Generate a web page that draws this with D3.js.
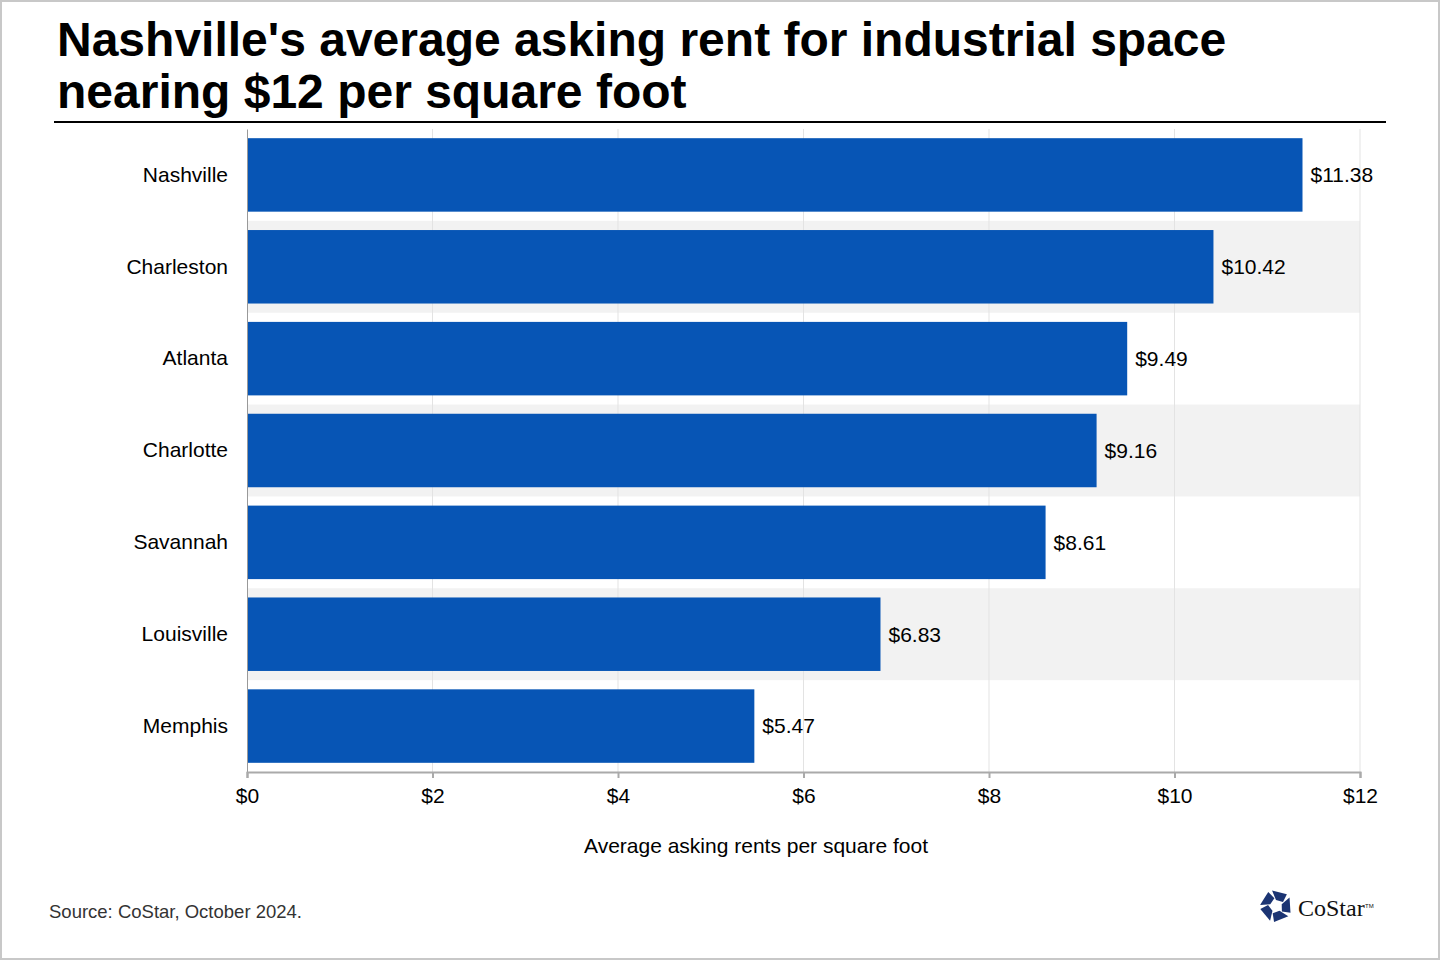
<!DOCTYPE html>
<html lang="en">

<head>
    <meta charset="utf-8">
    <title>Nashville industrial rent</title>
    <script src="https://cdnjs.cloudflare.com/ajax/libs/d3/7.8.5/d3.min.js"></script>
    <style>
        body {
            margin: 0;
            background: #fff;
        }

        svg {
            display: block;
            font-family: "Liberation Sans", Arial, sans-serif;
        }
    </style>
</head>

<body>
    <script>
        var cities = ['Nashville', 'Charleston', 'Atlanta', 'Charlotte', 'Savannah', 'Louisville', 'Memphis'];
        var rents = [11.38, 10.42, 9.49, 9.16, 8.61, 6.83, 5.47];
        var xTicks = [0, 2, 4, 6, 8, 10, 12];

        var width = 1440, height = 960;
        var plotLeft = 247, plotRight = 1360, plotTop = 129, plotBottom = 772;
        var labelSize = 21;

        var svg = d3.select('body').append('svg')
            .attr('width', width)
            .attr('height', height);

        // border
        svg.append('rect')
            .attr('x', 1).attr('y', 1)
            .attr('width', width - 2).attr('height', height - 2)
            .attr('fill', '#fff')
            .attr('stroke', '#c8c8c8')
            .attr('stroke-width', 2);

        // title
        var title = svg.append('text')
            .attr('font-size', 48)
            .attr('font-weight', 'bold')
            .attr('fill', '#000');
        title.append('tspan').attr('x', 57).attr('y', 56).text("Nashville's average asking rent for industrial space");
        title.append('tspan').attr('x', 57).attr('y', 108).text('nearing $12 per square foot');

        svg.append('line')
            .attr('x1', 54).attr('x2', 1386)
            .attr('y1', 122).attr('y2', 122)
            .attr('stroke', '#000')
            .attr('stroke-width', 2);

        var x = d3.scaleLinear().domain([0, 12]).range([plotLeft, plotRight]);
        var y = d3.scaleBand().domain(cities).range([plotTop, plotBottom]).paddingInner(0.2).paddingOuter(0.1);
        var band = d3.scaleBand().domain(cities).range([plotTop, plotBottom]);

        // alternate row shading
        svg.append('g').selectAll('rect')
            .data(cities.filter(function (d, i) { return i % 2 === 1; }))
            .enter().append('rect')
            .attr('x', plotLeft)
            .attr('y', function (d) { return band(d); })
            .attr('width', plotRight - plotLeft)
            .attr('height', band.bandwidth())
            .attr('fill', '#f2f2f2');

        // gridlines
        svg.append('g').selectAll('line')
            .data(xTicks.slice(1))
            .enter().append('line')
            .attr('x1', function (d) { return x(d); })
            .attr('x2', function (d) { return x(d); })
            .attr('y1', plotTop)
            .attr('y2', plotBottom)
            .attr('stroke', '#e3e3e3')
            .attr('stroke-width', 1);

        // bars
        svg.append('g').selectAll('rect')
            .data(rents)
            .enter().append('rect')
            .attr('x', x(0))
            .attr('y', function (d, i) { return y(cities[i]); })
            .attr('width', function (d) { return x(d) - x(0); })
            .attr('height', y.bandwidth())
            .attr('fill', '#0755b5');

        // value labels
        svg.append('g').selectAll('text')
            .data(rents)
            .enter().append('text')
            .attr('x', function (d) { return x(d) + 8; })
            .attr('y', function (d, i) { return y(cities[i]) + y.bandwidth() / 2; })
            .attr('dy', '0.35em')
            .attr('font-size', labelSize)
            .attr('fill', '#000')
            .text(function (d) { return '$' + d.toFixed(2); });

        // y axis
        var yAxis = svg.append('g')
            .attr('transform', 'translate(' + plotLeft + ',0)')
            .call(d3.axisLeft(band).tickSize(0).tickPadding(19));
        yAxis.select('.domain').attr('stroke', '#999');
        yAxis.selectAll('text').attr('font-size', labelSize).attr('fill', '#000')
            .attr('font-family', '"Liberation Sans", Arial, sans-serif');

        // x axis
        var xAxis = svg.append('g')
            .attr('transform', 'translate(0,' + plotBottom + ')')
            .call(d3.axisBottom(x).tickValues(xTicks).tickSize(6).tickPadding(10)
                .tickFormat(function (d) { return '$' + d; }));
        xAxis.select('.domain').attr('stroke', '#aaa').attr('stroke-width', 2);
        xAxis.selectAll('.tick line').attr('stroke', '#aaa').attr('stroke-width', 2);
        xAxis.selectAll('text').attr('font-size', labelSize).attr('fill', '#000')
            .attr('font-family', '"Liberation Sans", Arial, sans-serif');

        svg.append('text')
            .attr('x', 756)
            .attr('y', 853)
            .attr('text-anchor', 'middle')
            .attr('font-size', labelSize)
            .attr('fill', '#000')
            .text('Average asking rents per square foot');

        svg.append('text')
            .attr('x', 49)
            .attr('y', 918)
            .attr('font-size', 18.5)
            .attr('fill', '#333')
            .text('Source: CoStar, October 2024.');

        // logo
        var logo = svg.append('g').attr('transform', 'translate(1276,906)');
        for (var k = 0; k < 5; k++) {
            var a = (-90 + 72 * k) * Math.PI / 180;
            var b = a + 72 * Math.PI / 180;
            var pts = [
                [6 * Math.cos(a), 6 * Math.sin(a)],
                [16 * Math.cos(a - 0.25), 16 * Math.sin(a - 0.25)],
                [16 * Math.cos(a + 0.75), 16 * Math.sin(a + 0.75)],
                [8 * Math.cos(b - 0.2), 8 * Math.sin(b - 0.2)]
            ];
            logo.append('path')
                .attr('d', d3.line()(pts) + 'Z')
                .attr('fill', '#1b3473');
        }
        svg.append('text')
            .attr('x', 1298)
            .attr('y', 916)
            .attr('font-family', '"Liberation Serif", "DejaVu Serif", serif')
            .attr('font-size', 24)
            .attr('fill', '#111')
            .text('CoStar');
        svg.append('text')
            .attr('x', 1365)
            .attr('y', 908)
            .attr('font-size', 6)
            .attr('fill', '#111')
            .text('TM');
    </script>
</body>

</html>
